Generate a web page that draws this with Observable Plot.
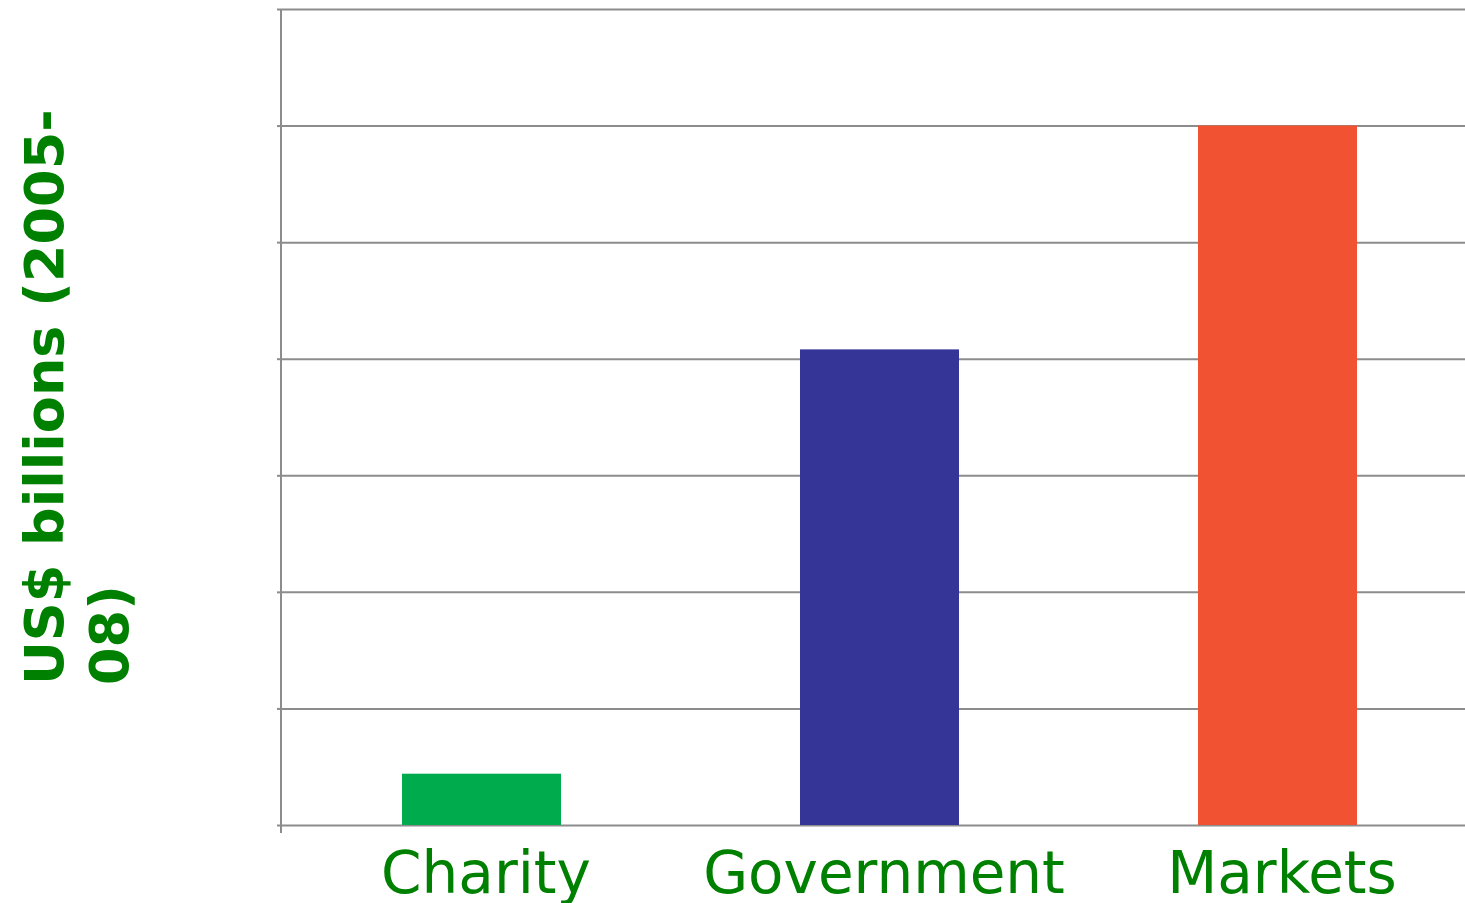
<!DOCTYPE html>
<html>
<head>
<meta charset="utf-8">
<script src="https://cdn.jsdelivr.net/npm/d3@7"></script>
<script src="https://cdn.jsdelivr.net/npm/@observablehq/plot@0.6"></script>
<style>
  html, body { margin: 0; padding: 0; background: #fff; }
  #chart svg { display: block; }
</style>
</head>
<body>
<div id="chart"></div>
<script>
const categories = ["Charity", "Government", "Markets"];
const values = [22, 204, 300];
const colors = ["#00AB4E", "#353598", "#F05232"];
const yTicks = [0, 50, 100, 150, 200, 250, 300, 350];
const yLabelLines = ["US$ billions (2005-", "08)"];

const data = categories.map((c, i) => ({category: c, value: values[i], color: colors[i]}));
const gray = "#8c8c8c";
const green = "#008000";

const plot = Plot.plot({
  width: 1465,
  height: 903,
  marginTop: 9,
  marginBottom: 78,
  marginLeft: 282,
  marginRight: 0,
  style: {fontFamily: "DejaVu Sans, Verdana, sans-serif", background: "#fff"},
  x: {domain: categories, range: [282, 1477], paddingInner: 0.6, paddingOuter: 0.3, label: null},
  y: {domain: [0, 350], range: [825, 9], label: null},
  marks: [
    Plot.ruleY(yTicks, {stroke: gray, strokeWidth: 2}),
    Plot.axisY(yTicks, {tickSize: 5, tickFormat: () => "", stroke: gray, strokeWidth: 2, label: null}),
    Plot.barY(data, {x: "category", y: "value", fill: "color"}),
    Plot.axisX({tickSize: 0, tickPadding: 26, dx: 4, fontSize: 58, fill: green, label: null})
  ]
});

const svg = d3.select(plot);
const xr = plot.scale("x").range;
const yr = plot.scale("y").range;
svg.append("line")
  .attr("x1", xr[0] - 1).attr("x2", xr[0] - 1)
  .attr("y1", yr[1]).attr("y2", yr[0] + 8)
  .attr("stroke", gray).attr("stroke-width", 2);

const lbl = svg.append("text")
  .attr("transform", "translate(63,685) rotate(-90)")
  .attr("fill", green)
  .attr("font-weight", "bold")
  .attr("font-size", 54)
  .attr("font-family", "DejaVu Sans, Verdana, sans-serif")
  .attr("text-anchor", "start");
yLabelLines.forEach((t, i) => {
  lbl.append("tspan").attr("x", 0).attr("dy", i === 0 ? 0 : 65).text(t);
});

document.getElementById("chart").appendChild(plot);
</script>
</body>
</html>
